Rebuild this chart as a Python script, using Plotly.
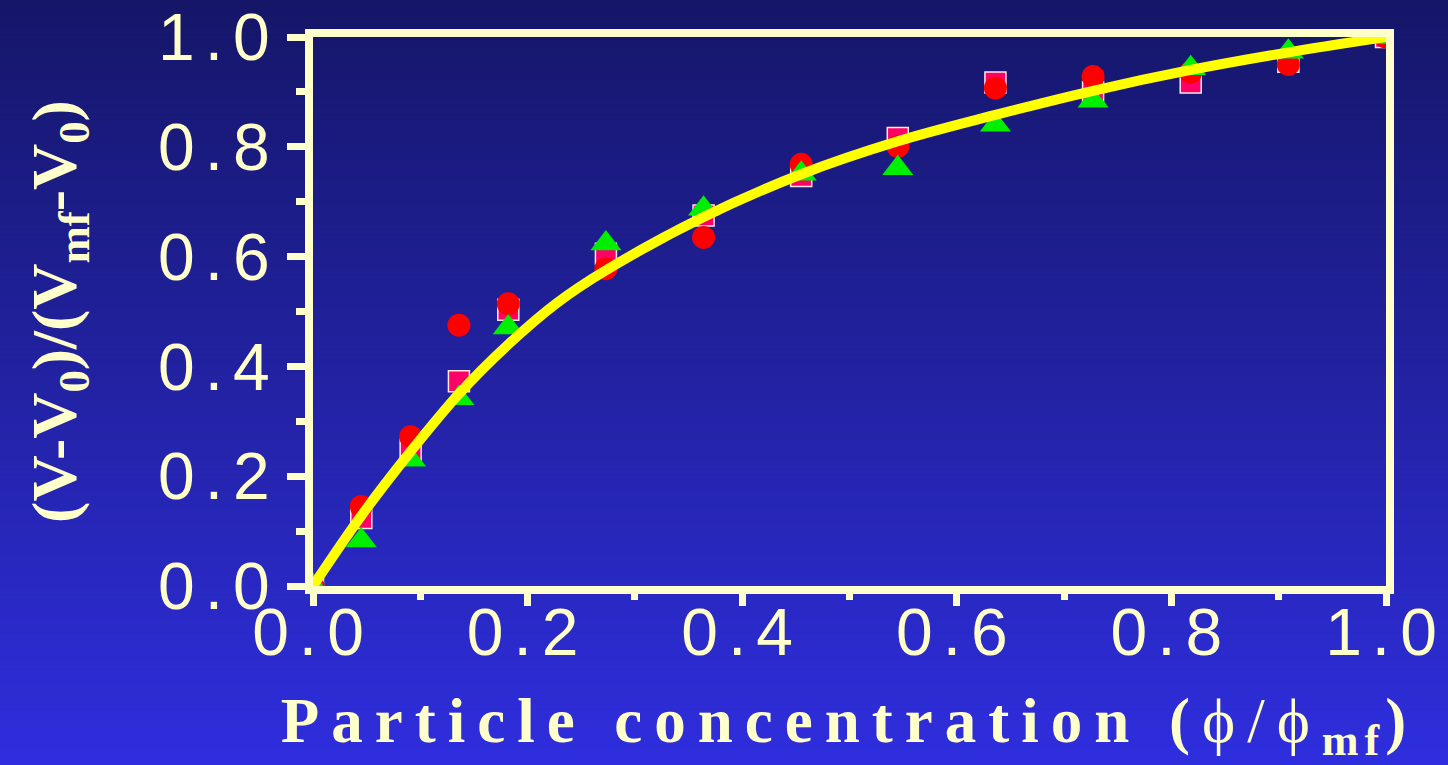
import plotly.graph_objects as go

# ---------------- data ----------------
x_conc = [0.0, 0.045, 0.091, 0.136, 0.182, 0.273, 0.364, 0.455, 0.545, 0.636, 0.727, 0.818, 0.909, 1.0]
y_square = [0.0, 0.124, 0.248, 0.373, 0.503, 0.605, 0.675, 0.747, 0.816, 0.917, 0.900, 0.917, 0.955, 1.0]
y_circle = [0.0, 0.145, 0.272, 0.475, 0.514, 0.578, 0.635, 0.768, 0.801, 0.907, 0.928, 0.936, 0.950, 1.0]
y_triangle = [0.0, 0.083, 0.230, 0.342, 0.471, 0.624, 0.687, 0.751, 0.761, 0.840, 0.884, 0.943, 0.973, 1.0]

x_fit = [0.0, 0.045, 0.091, 0.136, 0.182, 0.227, 0.273, 0.364, 0.455, 0.545, 0.636, 0.727, 0.818, 0.909, 1.0]
y_fit = [0.0, 0.128, 0.245, 0.350, 0.440, 0.515, 0.575, 0.672, 0.750, 0.810, 0.858, 0.902, 0.940, 0.972, 1.0]

tick_vals = [0.0, 0.2, 0.4, 0.6, 0.8, 1.0]
tick_labels = ["0.0", "0.2", "0.4", "0.6", "0.8", "1.0"]

x_title = "Particle concentration"
y_title_parts = ["(V-V", "0", ")/(V", "mf", "-V", "0", ")"]

# ---------------- style ----------------
W, H = 1448, 765
ML, MR, MT, MB = 313, 62, 37, 179
PW, PH = W - ML - MR, H - MT - MB
CREAM = "#FFFFCC"
TOP_RGB = (21, 22, 104)
BOT_RGB = (47, 46, 222)

fig = go.Figure()

fig.add_trace(go.Scatter(
    x=x_conc, y=y_square, mode="markers", name="squares",
    marker=dict(symbol="square", size=21, color="#FF0066",
                line=dict(color="#FFE6E6", width=1.5)),
))
fig.add_trace(go.Scatter(
    x=x_conc, y=y_circle, mode="markers", name="circles",
    marker=dict(symbol="circle", size=23, color="#FF0000", line=dict(width=0)),
))
fig.add_trace(go.Scatter(
    x=x_conc, y=y_triangle, mode="markers", name="triangles",
    marker=dict(symbol="triangle-up", size=27, color="#00EE00", line=dict(width=0)),
))
fig.add_trace(go.Scatter(
    x=x_fit, y=y_fit, mode="lines", name="fit",
    line=dict(color="#FFFF00", width=10, shape="spline", smoothing=1.0),
))

# background vertical gradient made of thin bands across the whole page
shapes = []
N = 153
step = H / N
for i in range(N):
    t = (i + 0.5) / N
    r = round(TOP_RGB[0] + (BOT_RGB[0] - TOP_RGB[0]) * t)
    g = round(TOP_RGB[1] + (BOT_RGB[1] - TOP_RGB[1]) * t)
    b = round(TOP_RGB[2] + (BOT_RGB[2] - TOP_RGB[2]) * t)
    ptop = i * step - 0.5
    pbot = (i + 1) * step + 0.5
    shapes.append(dict(
        type="rect", xref="paper", yref="paper", layer="below",
        x0=-ML / PW - 0.01, x1=1 + MR / PW + 0.01,
        y0=(H - MB - pbot) / PH, y1=(H - MB - ptop) / PH,
        fillcolor=f"rgb({r},{g},{b})", line=dict(width=0),
    ))

def spaced(s, sp):
    return f'<span style="letter-spacing:{sp}px">{s}</span>'

tick_text = [spaced(t, 10) for t in tick_labels]

x_title_html = (spaced(x_title + " (", 12)
                + '<span style="letter-spacing:12px;font-weight:normal">ϕ/ϕ</span>'
                + '<sub><span style="letter-spacing:6px">mf</span></sub>'
                + spaced(")", 12))

p = y_title_parts
y_title_html = f"{p[0]}<sub>{p[1]}</sub>{p[2]}<sub>{p[3]}</sub>{p[4]}<sub>{p[5]}</sub>{p[6]}"

axis_common = dict(
    range=[0, 1], showgrid=False, zeroline=False,
    showline=True, linecolor=CREAM, linewidth=8, mirror=True,
    ticks="outside", tickcolor=CREAM, tickwidth=7,
    tickmode="array", tickvals=tick_vals, ticktext=tick_text,
    tickfont=dict(family="Liberation Sans, Arial", size=66, color=CREAM),
)

fig.update_layout(
    width=W, height=H,
    margin=dict(l=ML, r=MR, t=MT, b=MB, autoexpand=False),
    paper_bgcolor="rgb(34,34,160)",
    plot_bgcolor="rgba(0,0,0,0)",
    showlegend=False,
    shapes=shapes,
    xaxis=dict(
        **axis_common, ticklen=12, ticklabelstandoff=-30,
        minor=dict(dtick=0.1, ticks="outside", ticklen=6, tickwidth=7, tickcolor=CREAM),
        title=dict(text=x_title_html, standoff=33,
                   font=dict(family="Liberation Serif, Times New Roman", size=63,
                             color=CREAM, weight="bold")),
    ),
    yaxis=dict(
        **axis_common, ticklen=18, ticklabelstandoff=-6,
        minor=dict(dtick=0.1, ticks="outside", ticklen=9, tickwidth=7, tickcolor=CREAM),
        title=dict(text=y_title_html, standoff=64,
                   font=dict(family="Liberation Serif, Times New Roman", size=64,
                             color=CREAM, weight="bold")),
    ),
)

fig.write_html("out.html", config={"displayModeBar": False},
               post_script="document.body.style.margin='0px';")
